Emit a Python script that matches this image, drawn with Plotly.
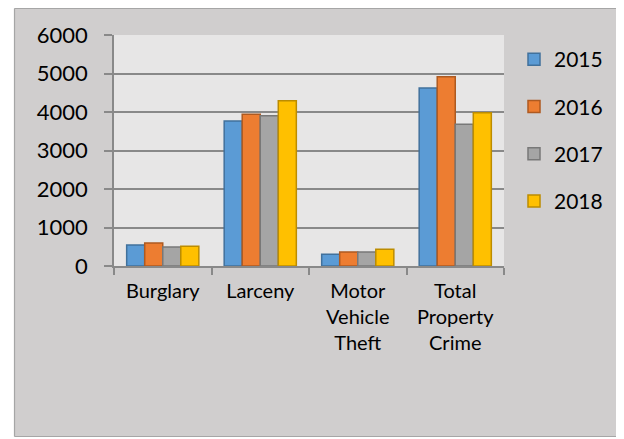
import plotly.graph_objects as go

categories = ["Burglary", "Larceny", "Motor<br>Vehicle<br>Theft", "Total<br>Property<br>Crime"]
years = ["2015", "2016", "2017", "2018"]
v2015 = [545, 3766, 303, 4623]
v2016 = [597, 3939, 364, 4918]
v2017 = [494, 3905, 364, 3680]
v2018 = [511, 4294, 433, 3983]
y_ticks = [0, 1000, 2000, 3000, 4000, 5000, 6000]

series = [v2015, v2016, v2017, v2018]
fills = ["#5b9bd5", "#ed7d31", "#a5a5a5", "#ffc000"]
borders = ["#41719c", "#ae5a21", "#787878", "#bc8c00"]

FONT = "Lato"
fig = go.Figure()
for name, vals, fc, bc in zip(years, series, fills, borders):
    fig.add_trace(go.Bar(
        x=categories, y=vals, name=name, legendgroup=name,
        marker=dict(color=fc, line=dict(color=bc, width=1.5)),
    ))

W, H = 624, 439
L, R, T, B = 106, 128, 27, 181
pw, ph = W - L - R, H - T - B

def px_x(px):
    return (px - L) / pw

def px_y(py):
    return (H - B - py) / ph

BOX_L, BOX_T, BOX_B = 6.5, 0.5, 428.5
# white surroundings outside the chart box
fig.add_shape(type="rect", xref="paper", yref="paper",
              x0=px_x(-20), x1=px_x(BOX_L), y0=px_y(460), y1=px_y(-20),
              fillcolor="white", line=dict(width=0), layer="below")
fig.add_shape(type="rect", xref="paper", yref="paper",
              x0=px_x(-20), x1=px_x(660), y0=px_y(460), y1=px_y(BOX_B),
              fillcolor="white", line=dict(width=0), layer="below")
# chart box border
for (x0, y0, x1, y1) in [(BOX_L, BOX_T, BOX_L, BOX_B), (BOX_L, BOX_B, 660, BOX_B), (BOX_L, BOX_T, 660, BOX_T)]:
    fig.add_shape(type="line", xref="paper", yref="paper",
                  x0=px_x(x0), x1=px_x(x1), y0=px_y(y0), y1=px_y(y1),
                  line=dict(color="#a6a6a6", width=1.2), layer="below")

fig.update_layout(
    width=W, height=H,
    margin=dict(l=L, r=R, t=T, b=B),
    paper_bgcolor="#d0cece",
    plot_bgcolor="#e7e6e6",
    barmode="group", bargap=0.26, bargroupgap=0,
    font=dict(family=FONT, size=20, color="#000000"),
    showlegend=True,
    legend=dict(x=px_x(506), y=px_y(31), xanchor="left", yanchor="top",
                bgcolor="rgba(0,0,0,0)", font=dict(size=21, family=FONT),
                tracegroupgap=17, traceorder="grouped"),
    xaxis=dict(showline=True, linecolor="#898989", linewidth=1.5,
               ticks="outside", tickson="boundaries", ticklen=7,
               tickcolor="#898989", tickwidth=1.5, ticklabelstandoff=6,
               tickfont=dict(size=20, family=FONT), showgrid=False),
    yaxis=dict(range=[0, 6000], tickvals=y_ticks, showline=True,
               linecolor="#898989", linewidth=1.5,
               ticks="outside", ticklen=8, tickcolor="#898989", tickwidth=1.5,
               showgrid=True, gridcolor="#898989", gridwidth=1.5,
               zeroline=False, ticklabelstandoff=12,
               tickfont=dict(size=22, family=FONT)),
)

fig.write_html("out.html")
